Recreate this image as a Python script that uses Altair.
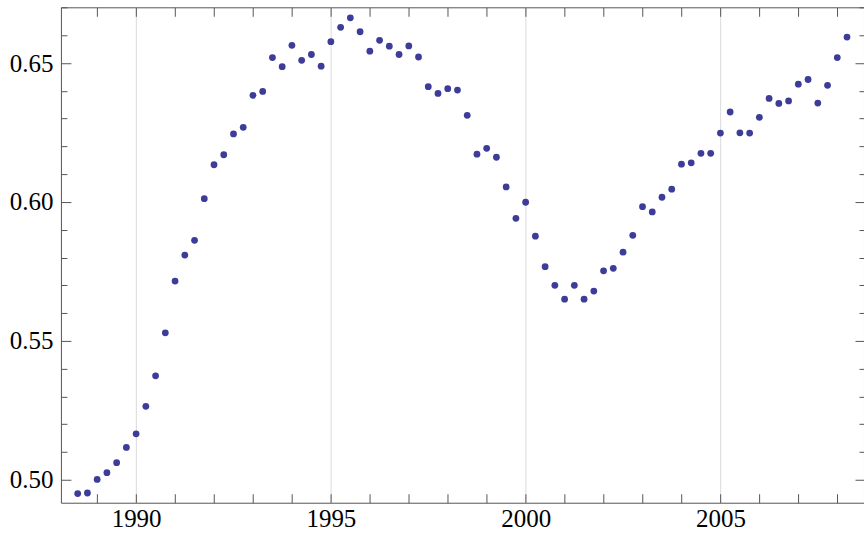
import altair as alt
import pandas as pd

# Quarterly observations, 1988 Q3 .. 2008 Q2
values = [
    0.4950, 0.4952, 0.5001, 0.5025, 0.5061, 0.5116, 0.5165, 0.5264,
    0.5374, 0.5529, 0.5715, 0.5809, 0.5862, 0.6012, 0.6134, 0.6170,
    0.6245, 0.6269, 0.6384, 0.6398, 0.6520, 0.6487, 0.6564, 0.6510,
    0.6531, 0.6489, 0.6577, 0.6629, 0.6663, 0.6613, 0.6543, 0.6582,
    0.6561, 0.6531, 0.6562, 0.6522, 0.6415, 0.6391, 0.6408, 0.6403,
    0.6312, 0.6172, 0.6193, 0.6161, 0.6054, 0.5941, 0.5999, 0.5877,
    0.5767, 0.5700, 0.5650, 0.5700, 0.5650, 0.5679, 0.5752, 0.5761,
    0.5819, 0.5880, 0.5983, 0.5964, 0.6017, 0.6046, 0.6136, 0.6141,
    0.6175, 0.6175, 0.6248, 0.6324, 0.6249, 0.6248, 0.6305, 0.6373,
    0.6355, 0.6364, 0.6424, 0.6441, 0.6356, 0.6420, 0.6520, 0.6594,
]
times = [1988.5 + 0.25 * i for i in range(len(values))]

x_label_values = [1990, 1995, 2000, 2005]
x_tick_values = [1989, 1990, 1991, 1992, 1993, 1994, 1995, 1996, 1997, 1998,
                 1999, 2000, 2001, 2002, 2003, 2004, 2005, 2006, 2007, 2008]
y_major_values = [0.50, 0.55, 0.60, 0.65]
y_minor_values = [0.51, 0.52, 0.53, 0.54, 0.56, 0.57, 0.58, 0.59,
                  0.61, 0.62, 0.63, 0.64, 0.66, 0.67]

W, H = 804, 496
XDOM = [1988.07, 2008.686]
YDOM = [0.4917, 0.6701]
FRAME = "#555555"
FONT = "Liberation Serif"

df = pd.DataFrame({"t": times, "v": values})
base = alt.Chart(df)


def xs(axis):
    return alt.X("t:Q", scale=alt.Scale(domain=XDOM, nice=False, zero=False),
                 axis=axis, title=None)


def ys(axis):
    return alt.Y("v:Q", scale=alt.Scale(domain=YDOM, nice=False, zero=False),
                 axis=axis, title=None)


def tick_axis(orient, vals, size, offset):
    return alt.Axis(orient=orient, values=vals, offset=offset, ticks=True,
                    tickSize=size, tickColor=FRAME, tickWidth=1, labels=False,
                    domain=False, grid=False)


points = base.mark_circle(size=46, color="#3d3d99", opacity=1).encode(
    x=xs(alt.Axis(orient="bottom", values=x_label_values, format="d", grid=True,
                  gridColor="#dadada", gridWidth=1, ticks=False, tickSize=0,
                  domain=False, labelFont=FONT, labelFontSize=25,
                  labelColor="black", labelPadding=4, labelFlush=False)),
    y=ys(alt.Axis(orient="left", values=y_major_values, format=".2f", grid=False,
                  ticks=False, tickSize=0, domain=False, labelFont=FONT,
                  labelFontSize=25, labelColor="black", labelPadding=8)),
)


def tick_layer(xaxis=None, yaxis=None):
    return base.mark_circle(opacity=0).encode(x=xs(xaxis), y=ys(yaxis))


layers = [
    points,
    tick_layer(xaxis=tick_axis("top", x_tick_values, 9, -H)),      # bottom edge, inward
    tick_layer(xaxis=tick_axis("bottom", x_tick_values, 9, -H)),   # top edge, inward
    tick_layer(yaxis=tick_axis("right", y_major_values, 10, -W)),  # left edge
    tick_layer(yaxis=tick_axis("right", y_minor_values, 6, -W)),
    tick_layer(yaxis=tick_axis("left", y_major_values, 9, -W)),    # right edge
    tick_layer(yaxis=tick_axis("left", y_minor_values, 5, -W)),
]

chart = alt.layer(*layers).resolve_axis(x="independent", y="independent").properties(
    width=W, height=H,
    padding={"left": 61, "top": 7, "right": 0, "bottom": 30},
    autosize=alt.AutoSizeParams(type="none"),
    background="white",
).configure_view(stroke=FRAME, strokeWidth=1)

chart.save("out.html", embed_options={"renderer": "svg", "actions": False})
